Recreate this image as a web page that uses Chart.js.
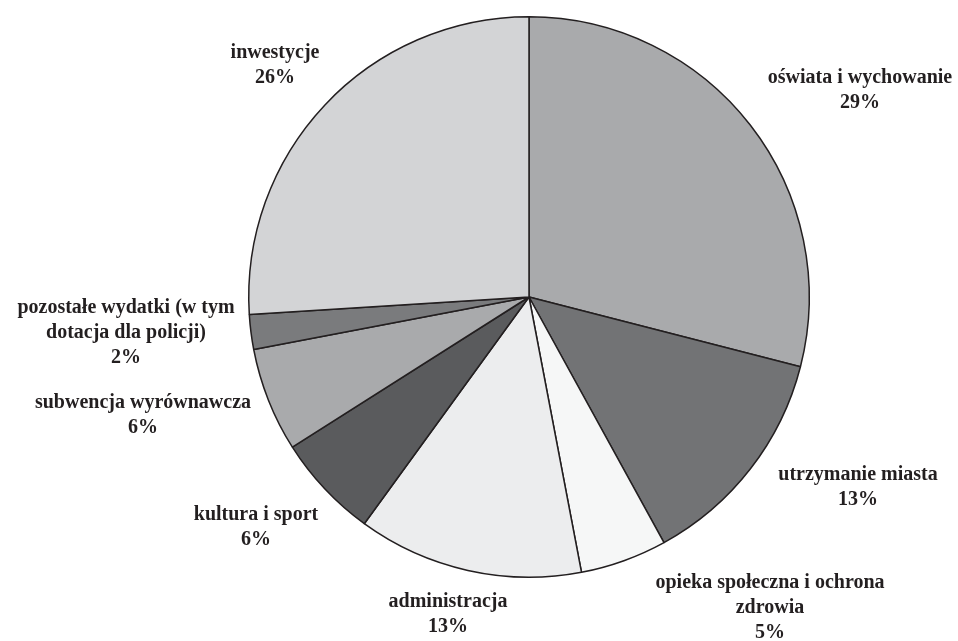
<!DOCTYPE html>
<html lang="pl">
<head>
    <meta charset="UTF-8">
    <title>Struktura wydatków</title>
    <script src="https://cdn.jsdelivr.net/npm/chart.js"></script>
    <style>
        html, body { margin: 0; padding: 0; background: #ffffff; }
        #wrap { width: 958px; height: 641px; position: relative; }
    </style>
</head>
<body>
<div id="wrap">
    <canvas id="pieChart"></canvas>
</div>

<script>
    // data (clockwise from 12 o'clock)
    const categories = [
        ['oświata i wychowanie'],
        ['utrzymanie miasta'],
        ['opieka społeczna i ochrona', 'zdrowia'],
        ['administracja'],
        ['kultura i sport'],
        ['subwencja wyrównawcza'],
        ['pozostałe wydatki (w tym', 'dotacja dla policji)'],
        ['inwestycje']
    ];
    const shares = [29, 13, 5, 13, 6, 6, 2, 26];

    const sliceColors = ['#a9aaac', '#727375', '#f6f7f7', '#ecedee', '#5a5b5d', '#a9aaac', '#7a7b7d', '#d3d4d6'];

    // where each label block sits, relative to the pie centre
    const labelOffsets = [
        [331, -207], [329, 190], [241, 311], [-81, 317],
        [-273, 230], [-386, 118], [-403, 36], [-254, -232]
    ];

    const outsideLabels = {
        id: 'outsideLabels',
        afterDraw(chart) {
            const ctx = chart.ctx;
            const arcs = chart.getDatasetMeta(0).data;
            const lineH = 25;
            ctx.save();
            ctx.font = 'bold 20px "Liberation Serif", "Times New Roman", serif';
            ctx.fillStyle = '#231f20';
            ctx.textAlign = 'center';
            ctx.textBaseline = 'middle';
            arcs.forEach((arc, i) => {
                const lines = categories[i].concat([shares[i] + '%']);
                const cx = arc.x + labelOffsets[i][0];
                const cy = arc.y + labelOffsets[i][1];
                const top = cy - (lines.length - 1) * lineH / 2;
                lines.forEach((t, k) => ctx.fillText(t, cx, top + k * lineH));
            });
            ctx.restore();
        }
    };

    const ctx = document.getElementById('pieChart').getContext('2d');
    new Chart(ctx, {
        type: 'pie',
        data: {
            labels: categories,
            datasets: [{
                data: shares,
                backgroundColor: sliceColors,
                borderColor: '#231f20',
                borderWidth: 1.5
            }]
        },
        options: {
            responsive: true,
            maintainAspectRatio: false,
            animation: false,
            layout: {
                padding: { top: 16, bottom: 63, left: 150, right: 50 }
            },
            plugins: {
                legend: { display: false },
                tooltip: { enabled: false }
            }
        },
        plugins: [outsideLabels]
    });
</script>
</body>
</html>
